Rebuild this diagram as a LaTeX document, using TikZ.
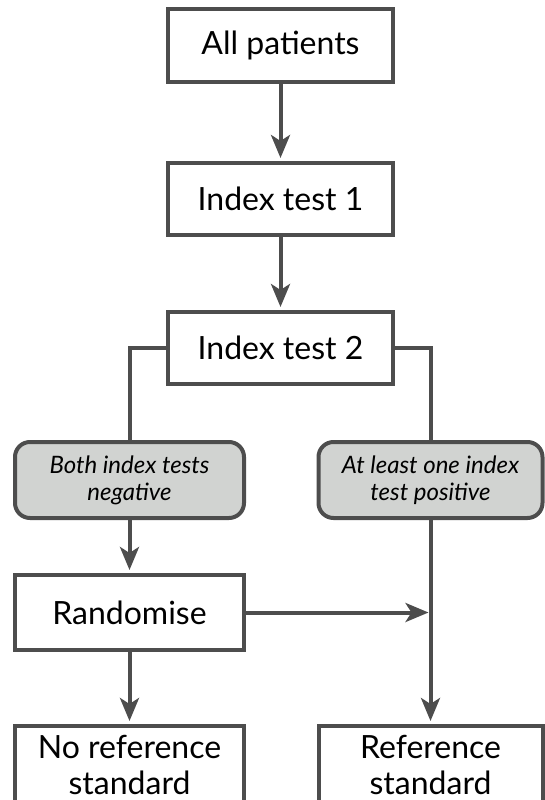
\documentclass[tikz,border=0pt]{standalone}
\usepackage{fontspec}
\setmainfont{Lato}
\usepackage{tikz}
\usetikzlibrary{arrows.meta,positioning}
\definecolor{linegrey}{HTML}{4D4D4D}
\definecolor{fillgrey}{HTML}{D1D3D1}

\begin{document}
\begin{tikzpicture}[
    x=1pt, y=1pt,
    box/.style={draw=linegrey, line width=4pt, fill=white, align=center,
        minimum width=225pt, minimum height=72pt, inner sep=0pt, outer sep=0pt,
        font=\fontsize{32}{36}\selectfont},
    sidebox/.style={box, minimum width=229pt, minimum height=75pt},
    outcome/.style={sidebox, rounded corners=15pt, fill=fillgrey, minimum height=76pt,
        font=\itshape\fontsize{24}{27}\selectfont},
    link/.style={draw=linegrey, line width=4pt},
    flow/.style={link, shorten >=5pt, -{Stealth[length=23pt,width=19pt,inset=6pt]}}]
\useasboundingbox (0,0) rectangle (544,-800);
\node[box] (all) at (280.5,-45.5) {All patients};
\node[box, below=81.5pt of all] (idx1) {Index test 1};
\node[box, below=77pt of idx1] (idx2) {Index test 2};
\node[outcome, below=58pt of idx2, xshift=-151pt] (neg) {Both index tests\\negative};
\node[outcome, below=58pt of idx2, xshift=150pt, minimum width=224pt] (pos) {At least one index\\test positive};
\node[sidebox, below=57pt of neg] (rand) {Randomise};
\node[sidebox, below=76pt of rand, minimum height=78pt] (noref) {No reference\\standard};
\node[sidebox, minimum width=224pt, minimum height=78pt] (ref) at (noref -| pos) {Reference\\standard};

\draw[flow] (all) -- (idx1);
\draw[flow] (idx1) -- (idx2);
\draw[link] (idx2.west) -| (neg.north);
\draw[link] (idx2.east) -| (pos.north);
\draw[flow] (neg) -- (rand);
\draw[flow] (rand) -- (noref);
\draw[flow] (pos) -- (ref);
\draw[flow, shorten >=2pt] (rand.east) -- (rand.east -| pos.south);

\end{tikzpicture}
\end{document}
